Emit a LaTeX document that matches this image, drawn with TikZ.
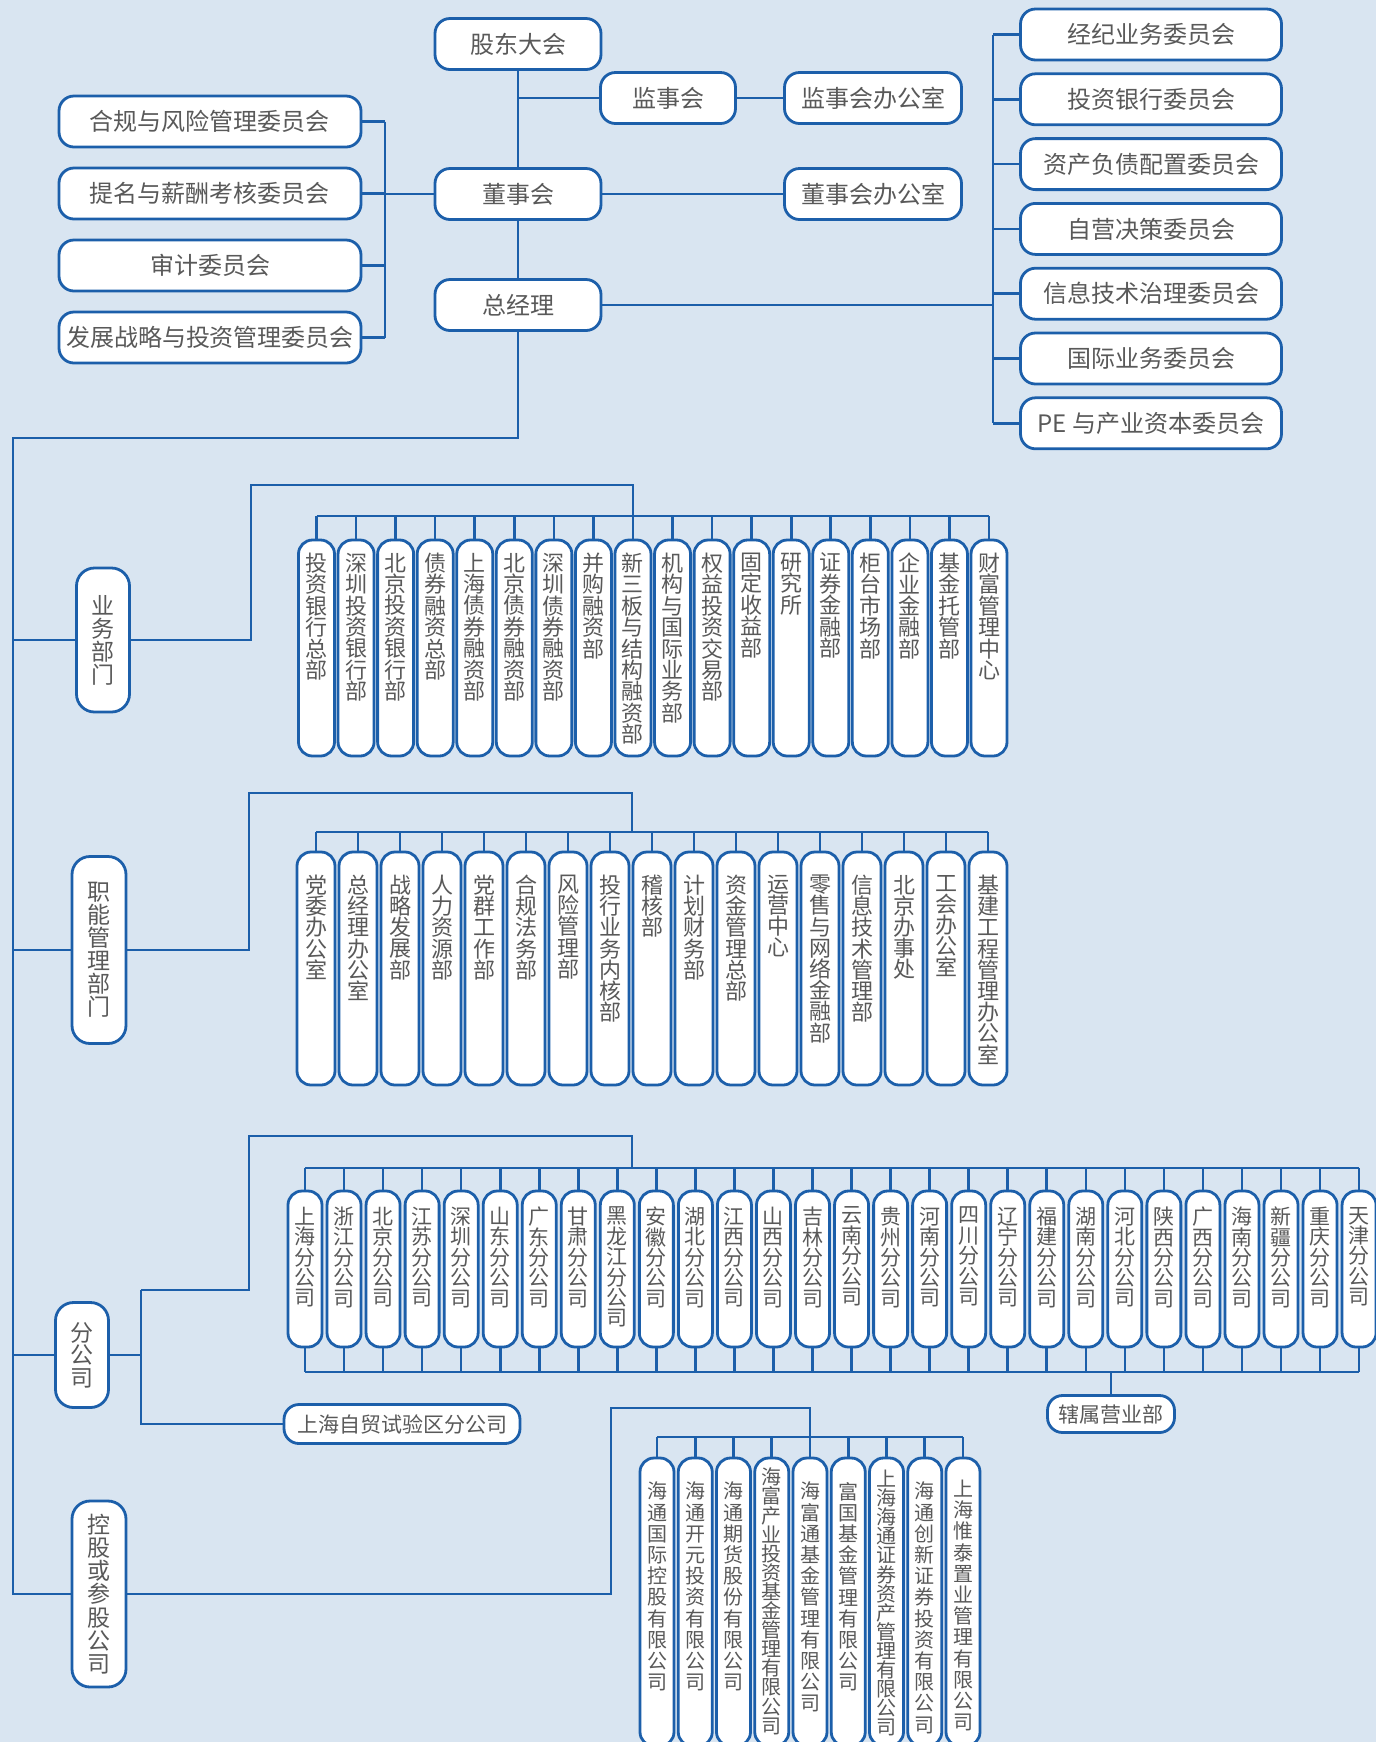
\documentclass[tikz,border=0pt]{standalone}
\usepackage{fontspec}
\setmainfont{Noto Sans CJK SC}
\usetikzlibrary{calc}
\definecolor{bg}{HTML}{D9E5F1}
\definecolor{ln}{HTML}{1C5FAA}
\definecolor{tx}{HTML}{595959}

\ExplSyntaxOn
\NewDocumentCommand\vt{O{10.6pt}m}{
  \tl_set:Nx \l_tmpa_tl {#2}
  \vbox{\baselineskip=#1\relax\lineskiplimit=-30pt\relax
    \tl_map_inline:Nn \l_tmpa_tl {\hbox{##1}}}
}
\ExplSyntaxOff
\newcommand\lab[4]{\vbox to #1{\vskip #2\relax\vt[#3]{#4}\vfil}}

\tikzset{
  conn/.style={draw=ln, line width=1.3pt},
  hbox/.style={draw=ln, fill=white, line width=1.4pt, rounded corners=7.5pt,
    inner sep=0pt, minimum height=25.5pt, font=\fontsize{12pt}{14pt}\selectfont, text=tx},
  cat/.style={draw=ln, fill=white, line width=1.4pt, rounded corners=9pt,
    inner sep=0pt, font=\fontsize{11.5pt}{11.5pt}\selectfont, text=tx},
  col/.style={draw=ln, fill=white, line width=1.4pt, rounded corners=7pt,
    inner sep=0pt, text=tx},
}

\begin{document}
\begin{tikzpicture}[x=0.5pt,y=-0.5pt]
\fill[bg] (0,0) rectangle (1376,1742);
\useasboundingbox (0,0) rectangle (1376,1742);

% ---------- top ----------
\node[hbox, minimum width=83pt] (gd) at (518,44) {股东大会};
\node[hbox, minimum width=67.5pt] (js) at (668,98) {监事会};
\node[hbox, minimum width=88.5pt] (jsb) at (873,98) {监事会办公室};
\node[hbox, minimum width=83pt] (dsh) at (518,194) {董事会};
\node[hbox, minimum width=88.5pt] (dsb) at (873,194) {董事会办公室};
\node[hbox, minimum width=83pt] (zjl) at (518,305) {总经理};

\foreach \t [count=\i from 0] in {经纪业务委员会,投资银行委员会,资产负债配置委员会,自营决策委员会,信息技术治理委员会,国际业务委员会,PE 与产业资本委员会}
  \node[hbox, minimum width=130.5pt] (rc\i) at (1151,{34.5+64.8*\i}) {\t};
\foreach \t [count=\i from 0] in {合规与风险管理委员会,提名与薪酬考核委员会,审计委员会,发展战略与投资管理委员会}
  \node[hbox, minimum width=151pt] (lc\i) at (210,{121.5+72*\i}) {\t};

\draw[conn] (gd) -- (dsh);
\draw[conn] (dsh) -- (zjl);
\draw[conn] (js.west) -- (js.west -| gd.south);
\draw[conn] (js) -- (jsb);
\draw[conn] (dsh) -- (dsb);
\coordinate (rbus) at (993,305);
\draw[conn] (zjl.east) -- (rbus);
\draw[conn] (rc0.west -| rbus) -- (rc6.west -| rbus);
\foreach \i in {0,...,6} \draw[conn] (rc\i.west) -- (rc\i.west -| rbus);
\coordinate (lbus) at (385,194);
\draw[conn] (dsh.west) -- (lbus);
\draw[conn] (lc0.east -| lbus) -- (lc3.east -| lbus);
\foreach \i in {0,...,3} \draw[conn] (lc\i.east) -- (lc\i.east -| lbus);

% ---------- category boxes ----------
\node[cat, minimum width=26.5pt, minimum height=72pt] (yw) at (103,640) {\vt[11.5pt]{业务部门}};
\node[cat, minimum width=27pt, minimum height=93.5pt] (zn) at (99,950) {\vt[11.5pt]{职能管理部门}};
\node[cat, minimum width=26.5pt, minimum height=52.5pt] (fg) at (82,1355) {\vt[11.2pt]{分公司}};
\node[cat, minimum width=27pt, minimum height=93pt] (kg) at (99,1594) {\vt[11.6pt]{控股或参股公司}};

\coordinate (s1) at (518,438);
\coordinate (s2) at (13,438);
\draw[conn] (zjl.south) -- (s1) -- (s2) -- (s2 |- kg.west) -- (kg.west);
\draw[conn] (s2 |- yw.west) -- (yw.west);
\draw[conn] (s2 |- zn.west) -- (zn.west);
\draw[conn] (s2 |- fg.west) -- (fg.west);

% ---------- 业务部门 ----------
\foreach \t [count=\i from 0] in {投资银行总部,深圳投资银行部,北京投资银行部,债券融资总部,上海债券融资部,北京债券融资部,深圳债券融资部,并购融资部,新三板与结构融资部,机构与国际业务部,权益投资交易部,固定收益部,研究所,证券金融部,柜台市场部,企业金融部,基金托管部,财富管理中心}
  \node[col, minimum width=18pt, font=\fontsize{11pt}{11pt}\selectfont] (ya\i) at ({316.5+39.56*\i},648) {\lab{108pt}{6.5pt}{10.7pt}{\t}};
\coordinate (yw1) at (251,640);
\coordinate (yw2) at (251,485);
\coordinate (yw3) at (633,485);
\coordinate (ywb) at (633,516);
\draw[conn] (yw.east) -- (yw1) -- (yw2) -- (yw3) -- (ywb);
\draw[conn] (ya0.north |- ywb) -- (ya17.north |- ywb);
\foreach \i in {0,...,17} \draw[conn] (ya\i.north) -- (ya\i.north |- ywb);

% ---------- 职能管理部门 ----------
\foreach \t [count=\i from 0] in {党委办公室,总经理办公室,战略发展部,人力资源部,党群工作部,合规法务部,风险管理部,投行业务内核部,稽核部,计划财务部,资金管理总部,运营中心,零售与网络金融部,信息技术管理部,北京办事处,工会办公室,基建工程管理办公室}
  \node[col, minimum width=19pt, font=\fontsize{11pt}{11pt}\selectfont] (zb\i) at ({316+42*\i},968.5) {\lab{116.5pt}{11.5pt}{10.6pt}{\t}};
\coordinate (zn1) at (249,950);
\coordinate (zn2) at (249,793);
\coordinate (zn3) at (632,793);
\coordinate (znb) at (632,832);
\draw[conn] (zn.east) -- (zn1) -- (zn2) -- (zn3) -- (znb);
\draw[conn] (zb0.north |- znb) -- (zb16.north |- znb);
\foreach \i in {0,...,16} \draw[conn] (zb\i.north) -- (zb\i.north |- znb);

% ---------- 分公司 ----------
\foreach \t [count=\i from 0] in {上海分公司,浙江分公司,北京分公司,江苏分公司,深圳分公司,山东分公司,广东分公司,甘肃分公司,黑龙江分公司,安徽分公司,湖北分公司,江西分公司,山西分公司,吉林分公司,云南分公司,贵州分公司,河南分公司,四川分公司,辽宁分公司,福建分公司,湖南分公司,河北分公司,陕西分公司,广西分公司,海南分公司,新疆分公司,重庆分公司,天津分公司}
  \node[col, minimum width=17pt, font=\fontsize{10.5pt}{10.5pt}\selectfont] (fb\i) at ({305+39.04*\i},1269) {\lab{78pt}{8pt}{10.2pt}{\t}};
\coordinate (fg1) at (141,1355);
\coordinate (fg2) at (141,1290);
\coordinate (fg3) at (249,1290);
\coordinate (fg4) at (249,1136);
\coordinate (fg5) at (632,1136);
\coordinate (fgb) at (632,1168);
\coordinate (fgc) at (632,1372);
\draw[conn] (fg.east) -- (fg1);
\draw[conn] (fg2) -- (fg3) -- (fg4) -- (fg5) -- (fgb);
\draw[conn] (fb0.north |- fgb) -- (fb27.north |- fgb);
\draw[conn] (fb0.south |- fgc) -- (fb27.south |- fgc);
\foreach \i in {0,...,27} {
  \draw[conn] (fb\i.north) -- (fb\i.north |- fgb);
  \draw[conn] (fb\i.south) -- (fb\i.south |- fgc);
}
\node[hbox, minimum width=118pt, minimum height=19.5pt, font=\fontsize{10.5pt}{12pt}\selectfont] (zm) at (402,1424) {上海自贸试验区分公司};
\draw[conn] (fg2) -- (fg2 |- zm.west) -- (zm.west);
\node[hbox, minimum width=63.5pt, minimum height=18.5pt, font=\fontsize{10.5pt}{12pt}\selectfont] (xs) at (1111,1414) {辖属营业部};
\draw[conn] (xs.north) -- (xs.north |- fgc);

% ---------- 控股或参股公司 ----------
\foreach \t/\o/\s [count=\i from 0] in {海通国际控股有限公司/12pt/10.6pt,海通开元投资有限公司/12pt/10.6pt,海通期货股份有限公司/12pt/10.6pt,海富产业投资基金管理有限公司/5pt/9.55pt,海富通基金管理有限公司/12pt/10.6pt,富国基金管理有限公司/12pt/10.6pt,上海海通证券资产管理有限公司/6pt/9.55pt,海通创新证券投资有限公司/12pt/10.6pt,上海惟泰置业管理有限公司/11pt/10.6pt}
  \node[col, minimum width=17pt, font=\fontsize{10pt}{10pt}\selectfont] (kb\i) at ({657+38.25*\i},1602) {\lab{144pt}{\o}{\s}{\t}};
\coordinate (kg1) at (611,1594);
\coordinate (kg2) at (611,1408);
\coordinate (kg3) at (810,1408);
\coordinate (kgb) at (810,1437);
\draw[conn] (kg.east) -- (kg1) -- (kg2) -- (kg3) -- (kgb);
\draw[conn] (kb0.north |- kgb) -- (kb8.north |- kgb);
\foreach \i in {0,...,8} \draw[conn] (kb\i.north) -- (kb\i.north |- kgb);
\end{tikzpicture}
\end{document}
